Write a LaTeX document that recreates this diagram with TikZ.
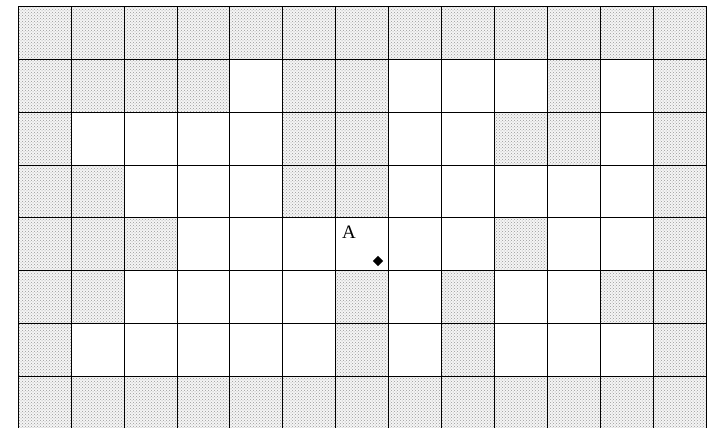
\documentclass[tikz,border=0pt]{standalone}
\usepackage{fontspec}
\setmainfont{Liberation Serif}
\usetikzlibrary{patterns,shapes.geometric}
\begin{document}
\begin{tikzpicture}[x=1pt,y=-1pt,
  shadedcell/.style={fill=gray!8,postaction={pattern=crosshatch dots,pattern color=gray!80}},
  gridline/.style={line width=1pt,black},
  marker/.style={diamond,fill=black,inner sep=0pt,minimum size=10.5pt}]
\useasboundingbox (0,0) rectangle (710,428);
\fill[white] (0,0) rectangle (710,428);
\clip (0,0) rectangle (710,428);
\def\xo{18.3}\def\yo{6.3}\def\cs{52.9}
\foreach \r/\cols in {0/{0,1,2,3,4,5,6,7,8,9,10,11,12},
                      1/{0,1,2,3,5,6,10,12},
                      2/{0,5,6,9,10,12},
                      3/{0,1,5,6,12},
                      4/{0,1,2,9,12},
                      5/{0,1,6,8,11,12},
                      6/{0,6,8,12},
                      7/{0,1,2,3,4,5,6,7,8,9,10,11,12}}{
  \foreach \c in \cols {
    \path[shadedcell] ({\xo+\c*\cs},{\yo+\r*\cs}) rectangle ++(\cs,\cs);
  }
}
\foreach \k in {0,...,13} \draw[gridline] ({\xo+\k*\cs},\yo) -- ({\xo+\k*\cs},440);
\foreach \j in {0,...,7} \draw[gridline] (\xo,{\yo+\j*\cs}) -- ({\xo+13*\cs},{\yo+\j*\cs});
\node[font=\fontsize{19}{22}\selectfont,inner sep=0pt] (lblA) at (349,232) {A};
\node[marker] (ptA) at (378,261) {};
\end{tikzpicture}
\end{document}
